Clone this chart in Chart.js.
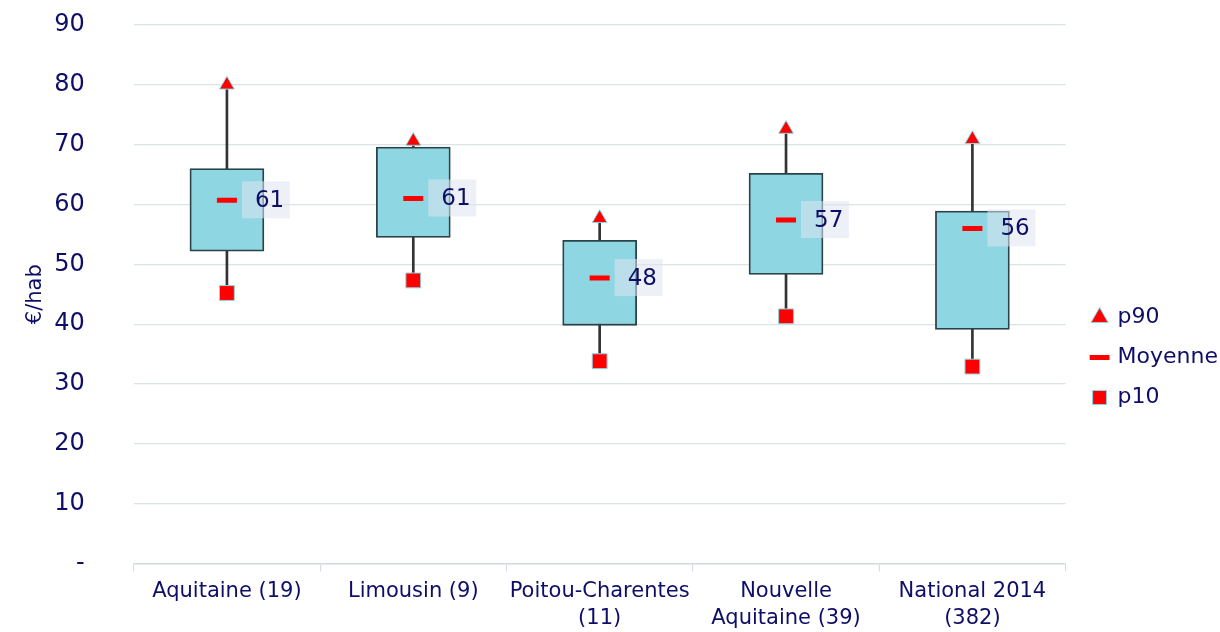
<!DOCTYPE html>
<html>
<head>
<meta charset="utf-8">
<script src="https://cdn.jsdelivr.net/npm/chart.js@4/dist/chart.umd.min.js"></script>
<style>
  html, body { margin:0; padding:0; background:#fff; }
  #wrap { width:1220px; height:632px; position:relative; }
</style>
</head>
<body>
<div id="wrap"><canvas id="cv"></canvas></div>
<script>
// ---------- Données ----------
const categories = [
  ['Aquitaine (19)'],
  ['Limousin (9)'],
  ['Poitou-Charentes', '(11)'],
  ['Nouvelle', 'Aquitaine (39)'],
  ['National 2014', '(382)']
];
const p10     = [45.2, 47.3, 33.8, 41.3, 32.9];
const p25     = [52.2, 54.5, 39.8, 48.3, 39.1];
const p75     = [66.0, 69.6, 54.0, 65.2, 58.9];
const p90     = [80.0, 70.6, 57.7, 72.6, 70.9];
const moyenne = [60.7, 61.0, 47.7, 57.4, 56.0];
const yTicks  = [0, 10, 20, 30, 40, 50, 60, 70, 80, 90];

// ---------- Style ----------
const NAVY = '#0e0e68';
const FONT = "'DejaVu Sans', sans-serif";
const BOX  = '#8fd6e3';

// Étiquettes de moyenne (fond translucide + valeur arrondie)
const meanLabels = {
  id: 'meanLabels',
  afterDatasetsDraw(chart) {
    const idx = chart.data.datasets.findIndex(d => d.label === 'Moyenne');
    const meta = chart.getDatasetMeta(idx);
    const ctx = chart.ctx;
    ctx.save();
    meta.data.forEach((pt, i) => {
      ctx.fillStyle = 'rgba(222,230,240,0.55)';
      ctx.fillRect(pt.x + 15, pt.y - 19, 48, 37);
      ctx.fillStyle = NAVY;
      ctx.font = "23px " + FONT;
      ctx.textBaseline = 'middle';
      ctx.textAlign = 'left';
      ctx.fillText(String(Math.round(moyenne[i])), pt.x + 28, pt.y + 1);
    });
    ctx.restore();
  }
};

// Décale la légende pour la placer comme l'original
const legendShift = {
  id: 'legendShift',
  afterLayout(chart) {
    const lg = chart.legend;
    if (!lg) return;
    lg.top += 29; lg.bottom += 29;
    lg.left += 9; lg.right += 9;
  }
};

new Chart(document.getElementById('cv'), {
  data: {
    labels: categories,
    datasets: [
      { type:'line', label:'p90', data:p90, showLine:false, order:0,
        pointStyle:'triangle', pointRadius:8.5, pointBackgroundColor:'#ff0000',
        pointBorderColor:BOX, pointBorderWidth:1, backgroundColor:'#ff0000', borderColor:BOX },
      { type:'line', label:'Moyenne', data:moyenne, showLine:false, order:1,
        pointStyle:'line', pointRadius:10, pointBorderColor:'#ff0000', pointBorderWidth:5,
        borderColor:'#ff0000', backgroundColor:'#ff0000' },
      { type:'line', label:'p10', data:p10, showLine:false, order:2,
        pointStyle:'rect', pointRadius:10.5, pointBackgroundColor:'#ff0000',
        pointBorderColor:BOX, pointBorderWidth:1, backgroundColor:'#ff0000', borderColor:BOX },
      { type:'bar', label:'box', data:p25.map((v, i) => [v, p75[i]]), order:3, grouped:false,
        barThickness:74, backgroundColor:BOX, borderColor:'#2a4348', borderWidth:1.8, borderSkipped:false },
      { type:'bar', label:'whisker', data:p10.map((v, i) => [v, p90[i]]), order:4, grouped:false,
        barThickness:2, backgroundColor:'#333333', borderWidth:0 }
    ]
  },
  options: {
    responsive:true, maintainAspectRatio:false, animation:false,
    layout: { padding: { top:25, right:1, bottom:0, left:23 } },
    plugins: {
      tooltip: { enabled:false },
      legend: {
        position:'right',
        labels: {
          usePointStyle:true, boxWidth:14, boxHeight:14, padding:18,
          color:NAVY, font:{ family:FONT, size:22 },
          filter: item => ['p90', 'Moyenne', 'p10'].includes(item.text)
        }
      }
    },
    scales: {
      x: {
        offset:true,
        afterFit: axis => { axis.height -= 6; },
        grid: { offset:true, drawOnChartArea:false, drawTicks:true, tickLength:8, color:'#d3dcdc' },
        border: { display:true, color:'#d3dcdc', width:1.5 },
        ticks: { color:NAVY, font:{ family:FONT, size:21, lineHeight:1.3 }, padding:6, maxRotation:0, autoSkip:false }
      },
      y: {
        min:0, max:90,
        afterBuildTicks: axis => { axis.ticks = yTicks.map(v => ({ value:v })); },
        grid: { color:'#dbe4e4', lineWidth:1.2, drawTicks:true, tickLength:43, tickColor:'rgba(0,0,0,0)' },
        border: { display:false },
        ticks: { color:NAVY, font:{ family:FONT, size:24 }, padding:6,
                 callback: v => v === 0 ? '-' : String(v) },
        title: { display:true, text:'€/hab', color:NAVY, font:{ family:FONT, size:21 }, padding:{ top:0, bottom:0 } }
      }
    }
  },
  plugins: [meanLabels, legendShift]
});
</script>
</body>
</html>
